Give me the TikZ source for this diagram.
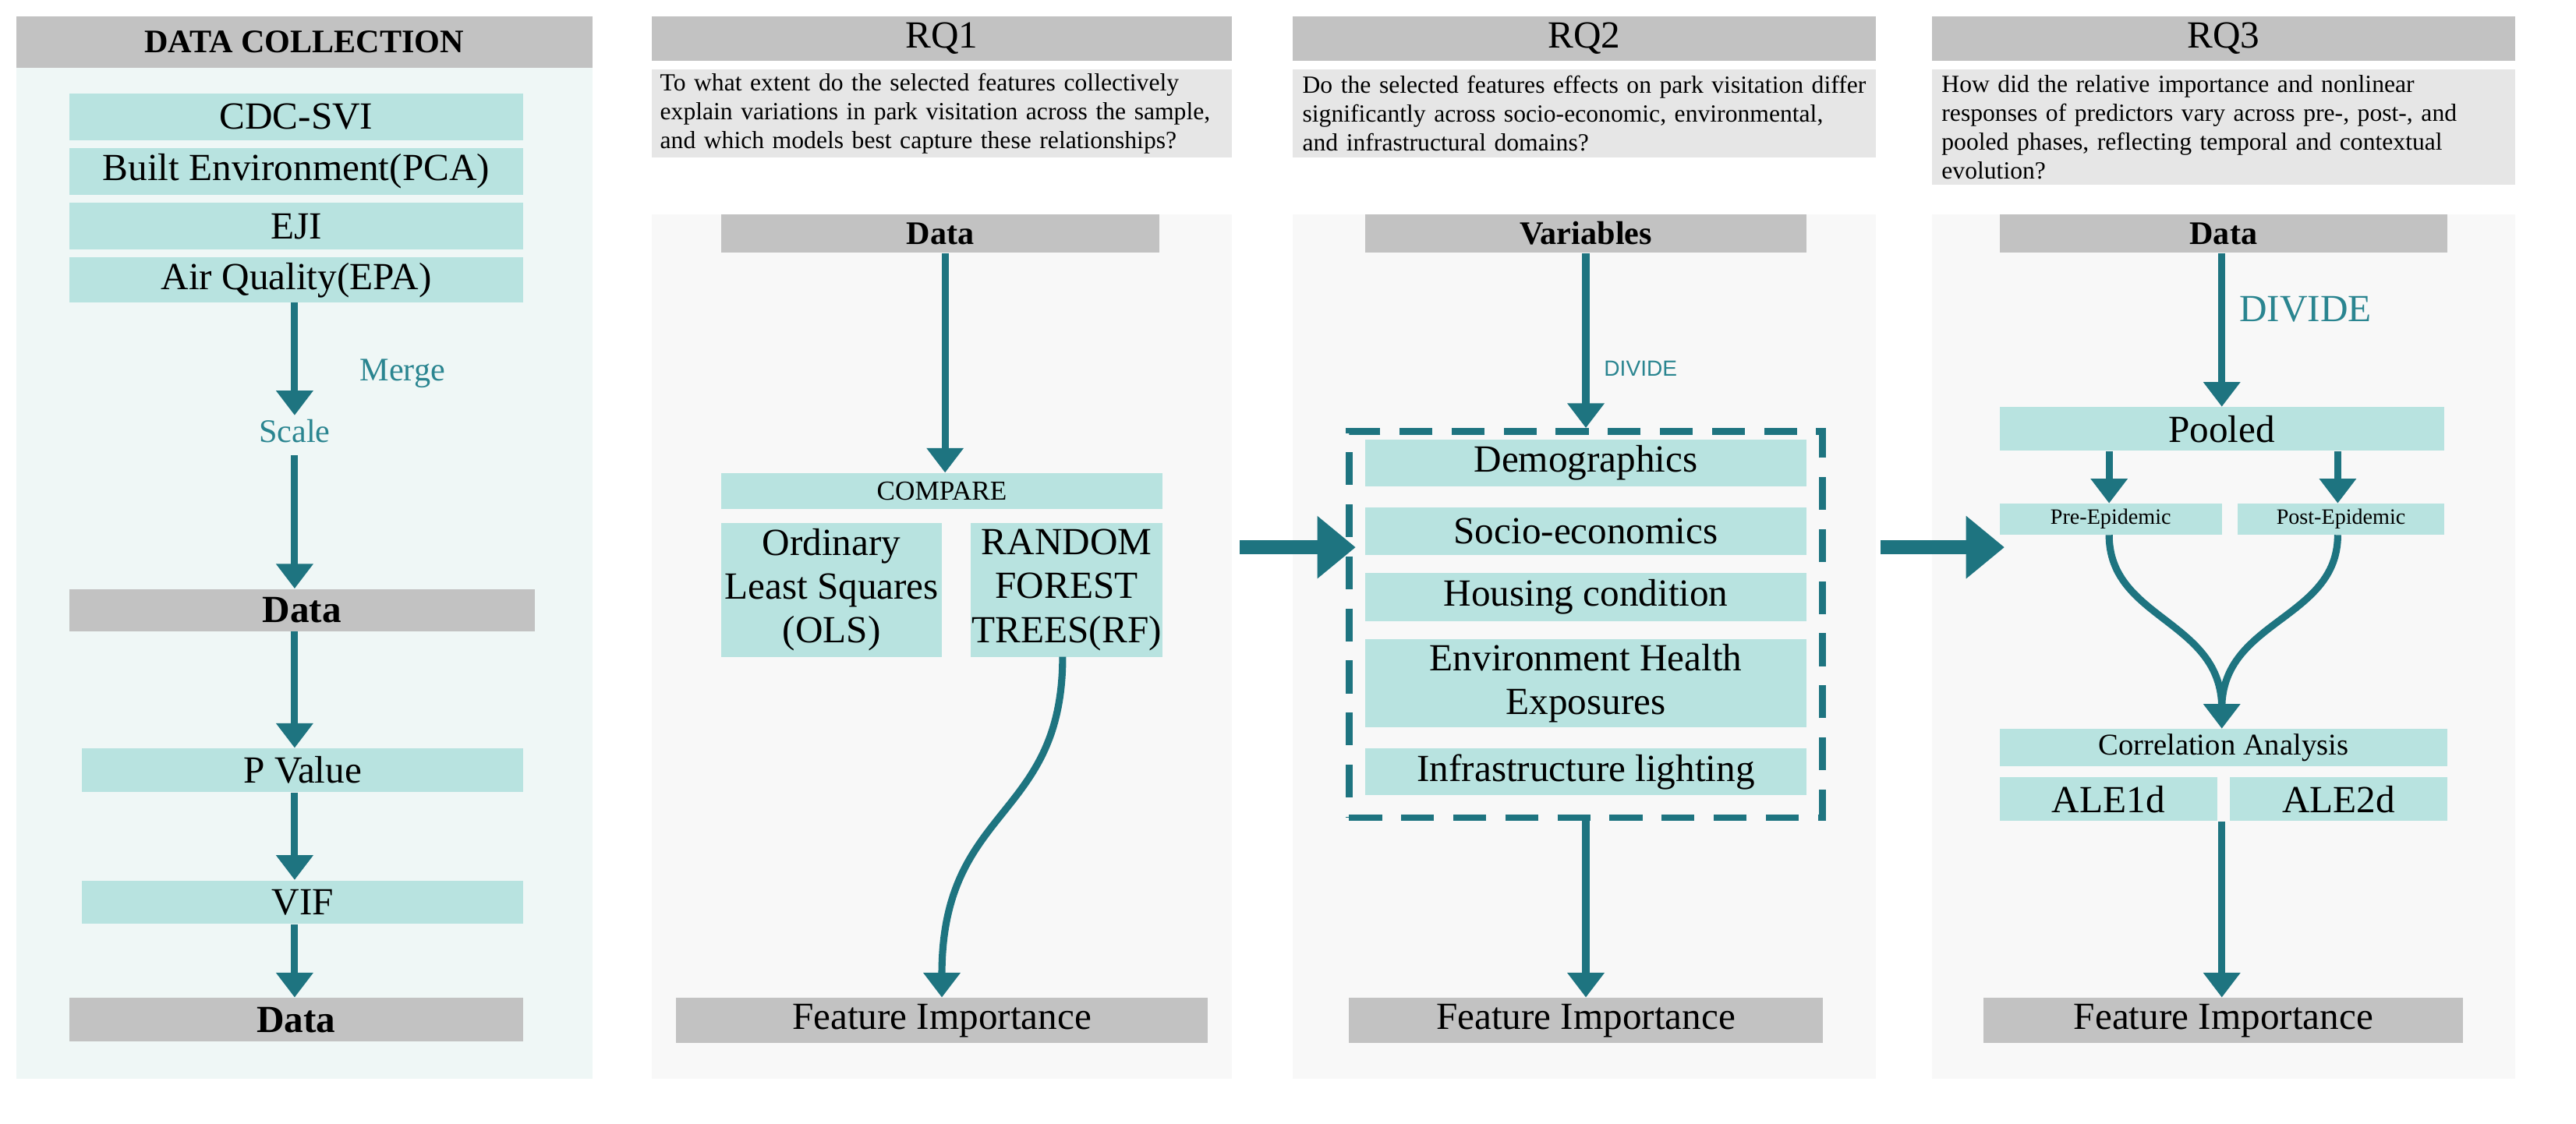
\documentclass[tikz,border=0pt]{standalone}
\usepackage{fontspec}
\setmainfont{Liberation Serif}
\newfontfamily\sansf{Liberation Sans}
\usetikzlibrary{arrows.meta}
\hyphenpenalty=10000
\exhyphenpenalty=10000
\definecolor{teal}{HTML}{1E7480}
\definecolor{tealtxt}{HTML}{2A8590}
\definecolor{boxc}{HTML}{B8E3E0}
\definecolor{grayc}{HTML}{C2C2C2}
\definecolor{qgray}{HTML}{E6E6E6}
\definecolor{panel}{HTML}{F8F8F8}
\definecolor{dcpanel}{HTML}{EFF7F6}
\newcommand\bx[7]{\node[#6, minimum width={(#4-#2)*0.02065cm}, minimum height={(#5-#3)*0.02065cm}] (#1) at ({(#2+#4)/2},{(#3+#5)/2}) {#7};}
\tikzset{
 base/.style={inner sep=0pt, draw=none, align=center},
 box/.style={base, fill=boxc, font=\fontsize{14}{16}\selectfont},
 gbox/.style={base, fill=grayc, font=\fontsize{14}{16}\selectfont},
 qbox/.style={base, fill=qgray, align=left, text width={350*0.02065cm}, font=\fontsize{9}{10.5}\selectfont},
 pnl/.style={base, fill=panel},
 arr/.style={teal, line width=2.6pt, -{Triangle[length=9pt,width=13pt]}},
 big/.style={teal, line width=5pt, -{Triangle[length=14pt,width=22pt]}},
 lbl/.style={text=tealtxt, font=\fontsize{12}{14}\selectfont}
}
\begin{document}
\hyphenpenalty=10000
\exhyphenpenalty=10000
\begin{tikzpicture}[x=0.02065cm,y=-0.02065cm]
\useasboundingbox (0,0) rectangle (1600,698);
\fill[white] (0,0) rectangle (1600,698);
% Data collection
\bx{dcp}{10}{10}{368}{670}{base, fill=dcpanel}{}
\bx{dch}{10}{10}{368}{42}{gbox, font=\bfseries\fontsize{12}{14}\selectfont}{DATA COLLECTION}
\bx{cdc}{43}{58}{325}{87}{box}{CDC-SVI}
\bx{be}{43}{92}{325}{121}{box}{Built Environment(PCA)}
\bx{eji}{43}{126}{325}{155}{box}{EJI}
\bx{aq}{43}{160}{325}{188}{box}{Air Quality(EPA)}
\node[lbl] (merge) at (250,232) {Merge};
\node[lbl] (scale) at (183,268) {Scale};
\bx{d1}{43}{366}{332}{392}{gbox, font=\bfseries\fontsize{14}{16}\selectfont}{Data}
\bx{pv}{51}{465}{325}{492}{box}{P Value}
\bx{vif}{51}{547}{325}{574}{box}{VIF}
\bx{d2}{43}{620}{325}{647}{gbox, font=\bfseries\fontsize{14}{16}\selectfont}{Data}
\draw[arr] (183,188) -- (183,258);
\draw[arr] (183,283) -- (d1.north -| 183,0);
\draw[arr] (d1.south -| 183,0) -- (pv.north -| 183,0);
\draw[arr] (pv.south -| 183,0) -- (vif.north -| 183,0);
\draw[arr] (vif.south -| 183,0) -- (d2.north -| 183,0);
% RQ1
\bx{h1}{405}{10}{765}{38}{gbox}{RQ1}
\bx{q1}{405}{43}{765}{98}{qbox}{To what extent do the selected features collectively explain variations in park visitation across the sample, and which models best capture these relationships?}
\bx{p1}{405}{133}{765}{670}{pnl}{}
\bx{data1}{448}{133}{720}{157}{gbox, font=\bfseries\fontsize{12}{14}\selectfont}{Data}
\bx{cmp}{448}{294}{722}{316}{box, font=\fontsize{10}{12}\selectfont}{COMPARE}
\bx{ols}{448}{325}{585}{408}{box}{Ordinary\\Least Squares\\(OLS)}
\bx{rf}{603}{325}{722}{408}{box}{RANDOM\\FOREST\\TREES(RF)}
\bx{fi1}{420}{620}{750}{648}{gbox}{Feature Importance}
\draw[arr] (data1.south -| 587,0) -- (cmp.north -| 587,0);
\draw[arr] (660,408) .. controls (660,510) and (585,500) .. (fi1.north -| 585,0);
% RQ2
\bx{h2}{803}{10}{1165}{38}{gbox}{RQ2}
\bx{q2}{803}{43}{1165}{98}{qbox}{Do the selected features effects on park visitation differ significantly across socio-economic, environmental, and infrastructural domains?}
\bx{p2}{803}{133}{1165}{670}{pnl}{}
\bx{var}{848}{133}{1122}{157}{gbox, font=\bfseries\fontsize{12}{14}\selectfont}{Variables}
\bx{dash}{838}{268}{1132}{508}{base, draw=teal, line width=2.5pt, dash pattern=on 12pt off 7pt}{}
\bx{dem}{848}{273}{1122}{302}{box}{Demographics}
\bx{soc}{848}{315}{1122}{345}{box}{Socio-economics}
\bx{hou}{848}{356}{1122}{386}{box}{Housing condition}
\bx{env}{848}{397}{1122}{452}{box}{Environment Health\\Exposures}
\bx{inf}{848}{465}{1122}{494}{box}{Infrastructure lighting}
\bx{fi2}{838}{620}{1132}{648}{gbox}{Feature Importance}
\node[text=tealtxt, font=\sansf\fontsize{8}{10}\selectfont] (div2) at (1019,229) {DIVIDE};
\draw[arr] (var.south -| 985,0) -- (dash.north -| 985,0);
\draw[arr] (dash.south -| 985,0) -- (fi2.north -| 985,0);
% RQ3
\bx{h3}{1200}{10}{1562}{38}{gbox}{RQ3}
\bx{q3}{1200}{43}{1562}{115}{qbox}{How did the relative importance and nonlinear responses of predictors vary across pre-, post-, and pooled phases, reflecting temporal and contextual evolution?}
\bx{p3}{1200}{133}{1562}{670}{pnl}{}
\bx{data3}{1242}{133}{1520}{157}{gbox, font=\bfseries\fontsize{12}{14}\selectfont}{Data}
\node[lbl, font=\fontsize{14}{16}\selectfont] (div3) at (1432,192) {DIVIDE};
\bx{pool}{1242}{253}{1518}{280}{box}{Pooled}
\bx{pre}{1242}{313}{1380}{332}{box, font=\fontsize{8}{10}\selectfont}{Pre-Epidemic}
\bx{post}{1390}{313}{1518}{332}{box, font=\fontsize{8}{10}\selectfont}{Post-Epidemic}
\bx{corr}{1242}{453}{1520}{476}{box, font=\fontsize{11}{13}\selectfont}{Correlation Analysis}
\bx{ale1}{1242}{483}{1377}{510}{box}{ALE1d}
\bx{ale2}{1385}{483}{1520}{510}{box}{ALE2d}
\bx{fi3}{1232}{620}{1530}{648}{gbox}{Feature Importance}
\coordinate (mg) at (1380,440);
\draw[arr] (data3.south -| 1380,0) -- (pool.north -| 1380,0);
\draw[arr] (pool.south -| 1310,0) -- (pre.north -| 1310,0);
\draw[arr] (pool.south -| 1452,0) -- (post.north -| 1452,0);
\draw[teal, line width=2.6pt] (pre.south -| 1310,0) .. controls (1310,385) and (1380,385) .. (mg);
\draw[teal, line width=2.6pt] (post.south -| 1452,0) .. controls (1452,385) and (1380,385) .. (mg);
\draw[arr] (mg) -- (corr.north -| 1380,0);
\draw[arr] (ale1.south -| 1380,0) -- (fi3.north -| 1380,0);
% big arrows
\coordinate (b1s) at (770,340); \coordinate (b1e) at (842,340);
\coordinate (b2s) at (1168,340); \coordinate (b2e) at (1245,340);
\draw[big] (b1s) -- (b1e);
\draw[big] (b2s) -- (b2e);
\end{tikzpicture}
\end{document}
